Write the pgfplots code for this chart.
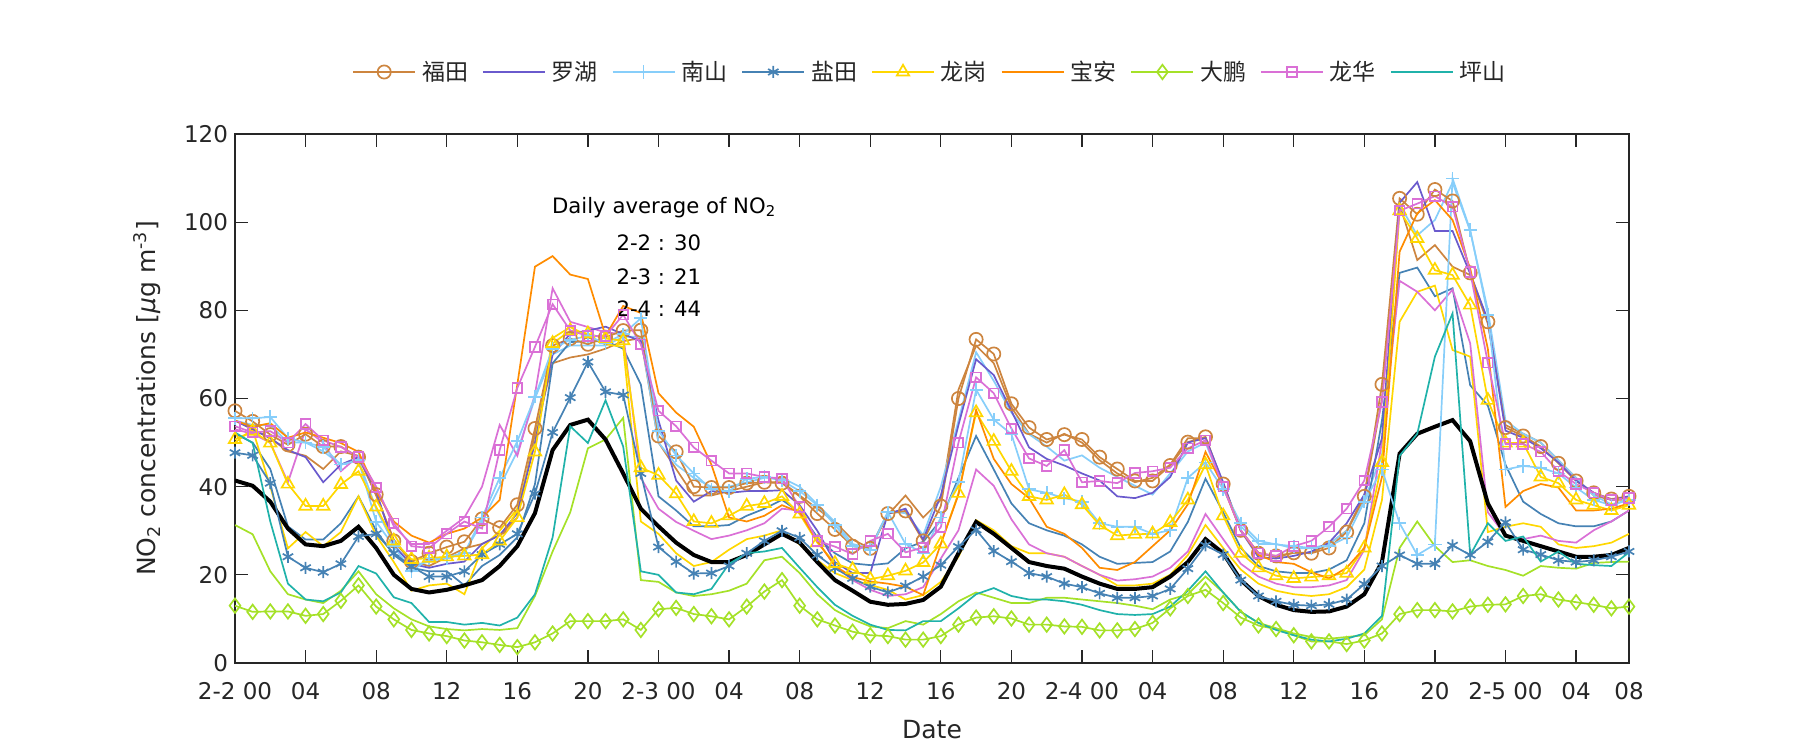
\documentclass[border=0pt]{standalone}
\usepackage{fontspec}
\setmainfont{DejaVu Sans}
\newfontfamily\cjk{Noto Sans CJK SC}
\usepackage{pgfplots}
\usepackage{pgfplotstable}
\pgfplotsset{compat=1.18}
\definecolor{axgray}{RGB}{38,38,38}
\definecolor{cFut}{RGB}{205,133,63}
\definecolor{cLuo}{RGB}{106,90,205}
\definecolor{cNan}{RGB}{135,206,250}
\definecolor{cYan}{RGB}{70,130,180}
\definecolor{cLg}{RGB}{255,215,0}
\definecolor{cBa}{RGB}{255,140,0}
\definecolor{cDp}{RGB}{165,225,40}
\definecolor{cLh}{RGB}{218,112,214}
\definecolor{cPs}{RGB}{32,178,170}
\pgfplotstableread{
h fut futb luo nan nanb yan yanb lg lgb ba dp dpb lh lhb ps avg
0 57.2 55 55 55.5 55 47.7 52 50.7 50 55 13 31.3 53.7 53 52.3 41.4
1 54.8 53 53 55.5 54 47.1 50 52.6 53 53.6 11.6 29.2 52.3 52 49.9 40.2
2 51.8 51 51 55.8 54 40.8 44 49.9 40 54.4 11.7 20.8 52.6 50 32.1 36.6
3 49.5 48 48.3 51 50 24.1 31 40.6 26 51.1 11.7 15.6 50 41 18 30.5
4 51.9 47 46.7 50 50 21.6 28 35.6 29.7 52.3 10.7 14.4 54.2 53 14.4 26.9
5 49.1 44 41 49 48 20.6 28 35.6 26.5 51.1 11.1 13.6 50.5 50 14 26.5
6 49.1 48 45 45 45 22.5 31.7 40.5 29.7 49.9 14.1 16.4 49 43.5 16 27.7
7 46.7 47 46.7 46 46 28.7 37.8 43.5 37.8 47.9 17.6 20.8 46.7 47 22 30.9
8 38.2 38 39 32 35 29.3 30 35.4 28.9 39 12.8 15.6 39.8 40 20.3 26.1
9 27.7 28 26.5 26.5 27 24.9 24.5 27.7 22.9 32.1 9.9 12.4 31.7 31 14.9 20
10 23 23 22.5 20.8 22 21.9 21.6 23.5 16.4 28.9 7.5 9.9 26.5 27 13.6 16.8
11 24.9 22 21.6 23.7 23 19.6 20.8 23.8 17.6 27.3 6.7 8.3 26.1 27 9.3 16
12 26.3 24 22.5 23.7 24 19.6 20.8 24.1 18 29.3 6.1 7.7 29.3 30 9.3 16.6
13 27.5 26 23 24.9 25 20.8 17.6 24.3 15.6 30.5 5.1 7.4 32.1 33 8.7 17.6
14 32.7 27 27 33 32 24.6 22 24.6 26 33 4.7 7.7 30.5 40 9.1 18.8
15 30.7 29 29 42 40 26.9 24.5 27.7 30 37 4.1 7.5 48.3 54 8.5 22
16 35.9 33 34 50.3 48 29.3 28.5 33 35 63.2 3.6 7.9 62.4 47 10.3 26.5
17 53.2 52 50 60.4 60 38.4 40.6 47.9 50 89.9 4.7 15.2 71.7 61 15.6 34
18 72 68 70 71.3 70 52.3 68 72.5 73.7 92.3 6.7 25.3 81.4 85 28.5 48.3
19 73.6 69.3 74.7 73.3 72 60.2 72.8 75.4 76.2 88.1 9.5 34.2 75.4 77.4 53.7 54
20 72.3 70 75.4 74.2 72 68.3 73 74.7 74.2 87.1 9.5 48.7 74.2 76.2 49.9 55.2
21 73.9 71.3 76.3 72.5 72 61.5 73 73.6 72.3 74.2 9.5 50.7 74.2 75 59.6 50.7
22 75.4 73 74.6 74.6 74 60.8 71.3 73.1 71.7 81 9.9 55.6 79 74.6 49.1 43
23 75.5 73.7 73 78.2 74 43 63.2 44.3 32.1 79.4 7.5 18.8 72.3 42 20.8 35
24 51.5 50 55 52.7 50 26.3 37.8 42.6 29.3 61.2 12.2 18.4 57.2 35 20 31
25 47.9 44 41.4 47.1 45 23 34.6 38.4 24.9 56.8 12.5 16 53.7 32 16 27.3
26 40 38 36.6 43 42 20.3 31 32.1 22 53.6 11.1 15.2 48.9 30 15.6 24.5
27 39.8 38 39 39.4 40 20.4 31 31.7 22.9 45 10.6 15.6 45.9 28.1 16.8 22.9
28 39.8 39 38.6 39 40 22 31.3 33.4 25.7 33 9.9 16.4 43 28.9 22.5 22.9
29 40.8 40 39 41.8 41 24.9 33.4 35.6 28.1 32.1 12.8 18 43 30.1 24.9 24.5
30 41 41 39 42.2 42 27.7 35 36.2 28.9 33.4 16.2 23.3 42.2 31.7 25.3 26.9
31 40.8 41 39.2 41.4 42 30 37 37.8 30.1 35.8 18.8 24.1 41.8 35 26.1 29.3
32 37.8 38 35.8 39 40 28.4 34.2 33.8 26.9 34.2 13 20.4 35.4 34.6 21.6 27.3
33 33.9 35 30 35.8 36 24.5 28.5 27.3 23.3 27.7 9.9 15.6 27.7 27.7 17.2 22.9
34 30.3 32 22.9 31.3 32 21.5 24.9 22.6 20.4 22 8.5 12 26.4 22 13.2 18.8
35 26.5 28 20.4 26.5 27 19.2 22.6 21.2 18.8 19.5 7.1 9.9 24.7 18.8 10.7 16.4
36 26 26 20.4 25.7 26 17.3 22.2 19 17.7 18.5 6.3 8.3 27.7 16.6 8.7 13.9
37 33.9 33.6 33.9 34.2 34.3 16 22.6 19.8 16.6 18 6.1 7.9 29.3 15.2 7.5 13.2
38 34.5 38 35 27 34 17.5 26 20.9 14.4 17.3 5.3 9.5 25.1 15.6 7.4 13.4
39 27.7 33 28 25 29 19.6 27.5 22.8 15.4 15.4 5.3 8.7 26.2 17.2 9.5 14.3
40 35.6 37 38 33 40 22.2 32.4 27 18.4 27 6.1 11.1 30.8 23.7 9.5 17.3
41 60 62 54 41 55 26.4 42 38.5 24.1 38.2 8.7 14 50 30.1 12.4 24.9
42 73.4 72 68.9 62 70.5 30.2 51.5 56.8 32.4 57.4 10.3 16 64.8 43.9 15.6 32
43 70.1 68 65.3 55.2 64 25.4 43.9 50.3 30.1 46.3 10.6 14.8 61.2 40.2 17 29.3
44 58.8 58 57.2 51.9 56.8 23 36.2 43.5 26.5 40.6 10.1 13.6 53.2 32.6 15.2 26.1
45 53.4 52 48.9 39.4 51.9 20.4 31.7 37.8 24.9 37.4 8.7 13.6 46.4 26.9 14.4 22.9
46 50.7 50 46.3 38.6 49.1 19.6 30.1 37 24.9 30.9 8.7 14.8 44.7 24.9 14.4 22
47 51.8 52 44.8 37.4 45.9 18 28.9 38.2 24.1 29.3 8.3 14.8 48.3 24.1 14 21.4
48 50.7 50 43 36.6 47.1 17.2 26.9 35.9 22 26.1 8.2 14.4 41 22 13.2 19.6
49 46.7 46 41.4 31.7 44.3 15.8 24.1 31.3 20 21.6 7.4 14 41.3 20 12 18
50 44 43 37.8 30.9 42.2 14.8 22.5 28.9 17.6 21.1 7.4 13.6 40.8 18.7 11.1 16.8
51 41.3 41 37.4 30.9 40.2 14.8 22.7 29.2 17.6 22.9 7.7 13 43.1 19 10.9 16.8
52 41.3 42 38.6 29.3 38.2 15.2 22.9 29.3 18 26.5 9.1 12.2 43.5 19.6 11.1 17.2
53 44.8 45 42.2 30.1 43 16.8 25.3 31.9 20 30.1 12.4 14.4 44.3 21.6 12.8 19.6
54 50.1 51 50 42 48 21.4 32 37 24.5 36 15.2 15.6 48.7 25.3 16.4 22.9
55 51.3 51 51 45.5 50 26.7 41.8 45 31.3 47.9 16.6 19.6 50.5 33.8 20.8 28.1
56 40.6 40 41 39.4 40 24.6 34.2 33.4 26.1 40.2 13.6 16 40 28.1 16 24.9
57 30.1 30 30 31.7 31 18.8 26.1 24.9 21.2 30.1 10.3 11.6 30.1 22.5 11.6 18.8
58 24.9 25 24 27.7 27 15.2 22 21.6 18 24.5 8.5 9.1 24.9 19.6 9.1 15.2
59 24.3 24 23.7 26.9 27 14 20.8 19.8 16.4 22.9 7.7 7.9 24.3 18 7.5 13.2
60 25 25 24.3 26.5 26 13.2 20.4 19.2 15.6 22.5 6.3 6.7 26.5 17.2 6.3 12
61 24.9 25 25.3 26.1 26 13 20.4 19.5 15.2 20.6 4.9 5.9 27.7 17.2 5.3 11.6
62 26.1 27 27.3 26.5 27 13.3 21.2 19.8 15.6 19.2 4.9 5.5 30.9 17.6 4.9 11.7
63 29.7 30 31.7 28.5 30 14.4 23.3 20.4 17.2 21.6 4.3 5.9 35 18.8 5.5 12.8
64 37.8 38 38.2 36.6 37 17.9 31.7 26.1 21.2 26.1 5.1 6.3 41.4 25.7 6.7 15.6
65 63.2 60 51 43.9 47 22 55 45.5 37 42.2 6.7 9.9 59.2 50.3 10.7 22.9
66 105.4 104 104.4 31.7 104 24.5 88.5 102.6 77.4 93.3 11.1 26.1 102.6 86.7 47 47.5
67 101.8 91.4 109.1 24.5 97 22.5 89.7 96.3 84.2 102 12 32.1 104.2 84.2 52 52
68 107.4 94.8 98 26.9 100.5 22.5 83.2 89.1 85.6 105 12 26.5 105.9 80 69.5 53.6
69 104.8 89.9 98 109.9 109 26.7 85 88 71 100.5 11.7 22.9 103.5 84.7 79.3 55.1
70 88.5 88 88.3 98.2 98 24.5 63 81.2 69.5 89.5 12.8 23.3 88.7 72.5 24.5 50.3
71 77.4 77 77.8 79 80 27.5 58.4 59.6 29.7 71.3 13.2 22 68.1 34.2 31.7 36.2
72 53.4 54 52.7 43.9 55 31.9 45 49.9 30.9 35.4 13.3 21.1 49.7 28.9 27.7 28.9
73 51.5 52 51.1 44.7 52 25.7 36.6 49.9 31.7 39 15.2 19.8 49.7 28.1 28.7 27.7
74 49.1 50 48.7 44.3 50 24.6 33.8 42.2 30.9 40.6 15.6 22 47.9 28.9 23 26.5
75 45.3 46 45.5 43 46 23.3 31.7 40.8 26.9 39.8 14.4 21.6 43.5 27.7 25.3 25.3
76 41.3 42 41.4 39.8 42 22.9 31 37 26.1 34.6 13.8 21.4 40.6 27.3 22.5 24.1
77 38.6 38 38.6 37 38 23.3 31 35.8 26.5 34.6 13.2 22.7 38.6 30.1 22.2 24.1
78 37.2 37 37 35.8 36 24.1 32.1 34.6 27.3 35 12.4 22.9 37 32.1 22 24.5
79 37.8 37 37.8 37 37 25.3 34.6 35.8 29.3 36.2 12.8 23 37.4 34.6 25.1 26.1
}\data
\begin{document}
\begin{tikzpicture}
\useasboundingbox (-117.5pt,-43.5pt) rectangle (782.5pt,331.5pt);
\begin{axis}[
  scale only axis, width=697pt, height=264.5pt,
  xmin=0, xmax=79, ymin=0, ymax=120,
  xtick={0,4,...,76,79},
  xticklabels={2-2 00,04,08,12,16,20,2-3 00,04,08,12,16,20,2-4 00,04,08,12,16,20,2-5 00,04,08},
  ytick={0,20,...,120},
  tick align=inside, major tick length=6.5pt,
  axis line style={draw=axgray, line width=0.6pt},
  every tick/.style={draw=axgray, line width=0.6pt},
  tick label style={text=axgray, font=\fontsize{11.5}{13}\selectfont},
  xticklabel style={yshift=-6pt},
  /pgf/number format/assume math mode=true,
  font=\fontsize{10.6}{13}\selectfont,
  xlabel={Date}, ylabel={NO\textsubscript{2} concentrations [\textit{μ}g m\textsuperscript{-3}]},
  xlabel style={at={(axis description cs:0.5,-0.1267)}, anchor=center, text=axgray, font=\fontsize{12.5}{14}\selectfont},
  ylabel style={at={(axis description cs:-0.0631,0.5)}, anchor=center, text=axgray, font=\fontsize{12.5}{14}\selectfont},
  legend columns=9,
  legend style={at={(0.4993,1)}, anchor=center, yshift=31pt, draw=none, fill=none,
    font=\cjk\fontsize{11.5}{13}\selectfont, text=axgray,
    nodes={inner xsep=2pt},
    /tikz/every odd column/.append style={column sep=1pt},
    /tikz/every even column/.append style={column sep=5pt}},
  legend image code/.code={\draw[mark repeat=2,mark phase=2] plot coordinates {(0pt,0pt) (15.5pt,0pt) (31pt,0pt)};},
  legend cell align=left,
  every axis plot/.append style={line width=0.85pt, mark options={solid}},
]
% secondary (unmarked) lines
\addplot[cFut, forget plot] table[x=h,y=futb]{\data};
\addplot[cNan, forget plot] table[x=h,y=nanb]{\data};
\addplot[cYan, forget plot] table[x=h,y=yanb]{\data};
\addplot[cLg, forget plot] table[x=h,y=lgb]{\data};
\addplot[cDp, forget plot] table[x=h,y=dpb]{\data};
\addplot[cLh, forget plot] table[x=h,y=lhb]{\data};
% average
\addplot[black, line width=2pt, forget plot] table[x=h,y=avg]{\data};
% legend series
\addplot[cFut, mark=o, mark size=3.3pt] table[x=h,y=fut]{\data};
\addlegendentry{福田}
\addplot[cLuo] table[x=h,y=luo]{\data};
\addlegendentry{罗湖}
\addplot[cNan, mark=+, mark size=3.3pt] table[x=h,y=nan]{\data};
\addlegendentry{南山}
\addplot[cYan, mark=asterisk, mark size=3pt] table[x=h,y=yan]{\data};
\addlegendentry{盐田}
\addplot[cLg, mark=triangle, mark size=3.6pt] table[x=h,y=lg]{\data};
\addlegendentry{龙岗}
\addplot[cBa] table[x=h,y=ba]{\data};
\addlegendentry{宝安}
\addplot[cDp, mark=diamond, mark size=3.6pt] table[x=h,y=dp]{\data};
\addlegendentry{大鹏}
\addplot[cLh, mark=square, mark size=2.4pt] table[x=h,y=lh]{\data};
\addlegendentry{龙华}
\addplot[cPs] table[x=h,y=ps]{\data};
\addlegendentry{坪山}
\node[anchor=west, inner sep=0pt] at (axis cs:17.95,103.3) {Daily average of NO\textsubscript{2}};
\node[anchor=west, inner sep=0pt] at (axis cs:21.6,95.3) {2-2 : 30};
\node[anchor=west, inner sep=0pt] at (axis cs:21.6,87.7) {2-3 : 21};
\node[anchor=west, inner sep=0pt] at (axis cs:21.6,80.4) {2-4 : 44};
\end{axis}
\end{tikzpicture}
\end{document}
